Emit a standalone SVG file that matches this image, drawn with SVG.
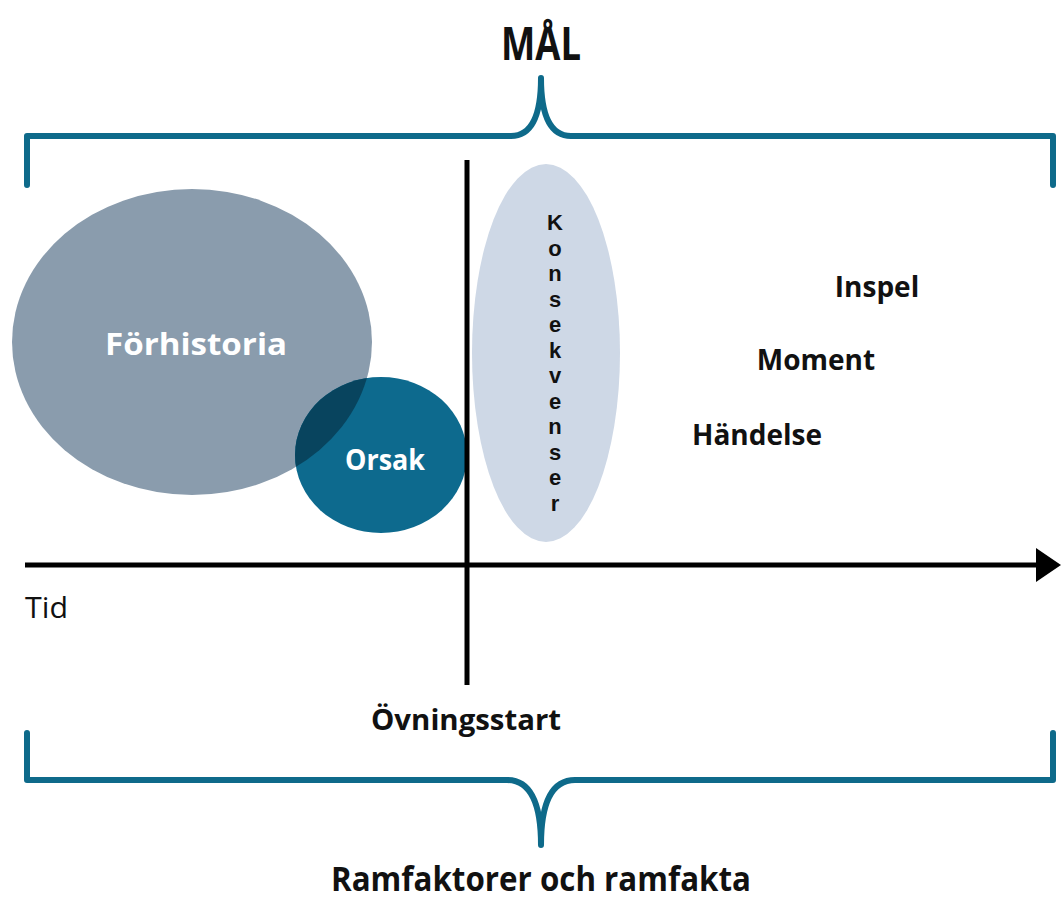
<svg xmlns="http://www.w3.org/2000/svg" width="1061" height="903" viewBox="0 0 1061 903">
<style>
.brace{fill:none;stroke:#0e6a8a;stroke-width:6;stroke-linecap:round;stroke-linejoin:round}
.axis{stroke:#000;stroke-width:5;fill:none}
.lbl{font-family:"Open Sans","Noto Sans",sans-serif;font-weight:bold;fill:#111}
.wlbl{font-family:"Open Sans","Noto Sans",sans-serif;font-weight:bold;fill:#fff}
.vl{font-family:"Liberation Sans",Arial,sans-serif;font-weight:bold;fill:#111;font-size:22px}
</style>
<defs>
<clipPath id="clipF"><ellipse cx="192" cy="342" rx="180" ry="153"/></clipPath>
</defs>
<rect width="1061" height="903" fill="#fff"/>
<g id="brace-top"><path class="brace" d="M27,185 L27,136 L511,136 Q541,136 541,78 Q541,136 571,136 L1053,136 L1053,185"/></g>
<g id="mal"><text class="lbl" x="541" y="60" font-size="46" text-anchor="middle" textLength="80" lengthAdjust="spacingAndGlyphs">MÅL</text></g>
<g id="forhistoria">
<ellipse cx="192" cy="342" rx="180" ry="153" fill="#8a9cad"/>
<text class="wlbl" x="196" y="355" font-size="30" text-anchor="middle" textLength="182" lengthAdjust="spacingAndGlyphs">Förhistoria</text>
</g>
<g id="orsak">
<ellipse cx="381" cy="455" rx="86" ry="78" fill="#0d6a8e"/>
<ellipse cx="381" cy="455" rx="86" ry="78" fill="#08445e" clip-path="url(#clipF)"/>
<text class="wlbl" x="385" y="470" font-size="28" text-anchor="middle" textLength="80" lengthAdjust="spacingAndGlyphs">Orsak</text>
</g>
<g id="konsekvenser">
<ellipse cx="546" cy="353" rx="74" ry="189" fill="#ced8e6"/>
<text class="vl" text-anchor="middle">
<tspan x="555" y="230">K</tspan><tspan x="555" y="256">o</tspan><tspan x="555" y="281">n</tspan><tspan x="555" y="307">s</tspan><tspan x="555" y="332">e</tspan><tspan x="555" y="358">k</tspan><tspan x="555" y="383">v</tspan><tspan x="555" y="409">e</tspan><tspan x="555" y="434">n</tspan><tspan x="555" y="460">s</tspan><tspan x="555" y="485">e</tspan><tspan x="555" y="511">r</tspan>
</text>
</g>
<g id="connectors">
<line class="axis" x1="467" y1="160" x2="467" y2="685"/>
<line class="axis" x1="25" y1="565" x2="1042" y2="565"/>
<polygon points="1036,548 1061,565 1036,582" fill="#000"/>
</g>
<g id="right-labels">
<text class="lbl" x="877" y="297" font-size="28" text-anchor="middle">Inspel</text>
<text class="lbl" x="816" y="370" font-size="28" text-anchor="middle">Moment</text>
<text class="lbl" x="757" y="445" font-size="28" text-anchor="middle">Händelse</text>
</g>
<g id="tid"><text x="25" y="618" font-family="'Open Sans','Noto Sans',sans-serif" font-size="29" fill="#111" textLength="43" lengthAdjust="spacingAndGlyphs">Tid</text></g>
<g id="ovningsstart"><text class="lbl" x="466" y="730" font-size="28" text-anchor="middle" textLength="190" lengthAdjust="spacingAndGlyphs">Övningsstart</text></g>
<g id="brace-bottom"><path class="brace" d="M27,733 L27,780 L507,780 Q541,780 541,845 Q541,780 575,780 L1053,780 L1053,733"/></g>
<g id="ramfaktorer"><text class="lbl" x="541" y="891" font-size="34" text-anchor="middle" textLength="420" lengthAdjust="spacingAndGlyphs">Ramfaktorer och ramfakta</text></g>
</svg>
